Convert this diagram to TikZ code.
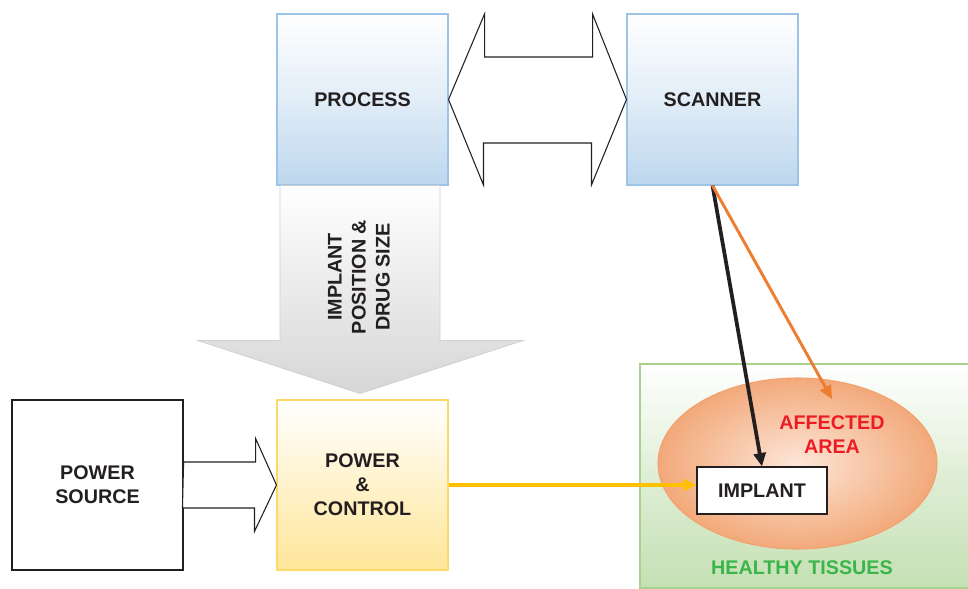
\documentclass[tikz,border=0pt]{standalone}
\usepackage{fontspec}
\setmainfont{Liberation Sans}
\usetikzlibrary{arrows.meta,shapes.geometric,calc}
\definecolor{txt}{HTML}{231F20}
\definecolor{blueF}{HTML}{BDD7EE}
\definecolor{blueD}{HTML}{9DC3E6}
\definecolor{yelF}{HTML}{FFE699}
\definecolor{yelD}{HTML}{FFD966}
\definecolor{grnF}{HTML}{C5E0B4}
\definecolor{grnD}{HTML}{A9D18E}
\definecolor{orgIn}{HTML}{FDE6D8}
\definecolor{orgOut}{HTML}{F2A97A}
\definecolor{orgD}{HTML}{F4A16E}
\definecolor{orgA}{HTML}{ED7D31}
\definecolor{yelA}{HTML}{FFC000}
\definecolor{redT}{HTML}{ED1C24}
\definecolor{grnT}{HTML}{39B54A}
\definecolor{grayF}{HTML}{D6D6D6}
\definecolor{grayD}{HTML}{D0D0D0}
\begin{document}
\begin{tikzpicture}[x=0.75pt,y=-0.75pt,
  lbl/.style={font=\fontsize{14.8}{18}\selectfont\bfseries, text=txt, align=center},
  bluebox/.style={lbl, rectangle, draw=blueD, line width=0.8pt, top color=white, bottom color=blueF, middle color=blueF!45,
     minimum width=128.25pt, minimum height=128.25pt, inner sep=0pt},
  plainbox/.style={lbl, rectangle, draw=txt, line width=0.9pt, fill=white, inner sep=0pt},
  hollow/.style={draw=txt, line width=0.8pt, fill=white, line join=miter},
  conn/.style={line width=2.4pt, -{Triangle[length=10pt,width=9pt]}}
]
\useasboundingbox (0,0) rectangle (968,589);
\clip (0,0) rectangle (968,589);

% nodes
\node[bluebox] (process) at (362.5,99.5) {PROCESS};
\node[bluebox] (scanner) at (712.5,99.5) {SCANNER};
\node[plainbox, minimum width=128.25pt, minimum height=127.5pt] (psource) at (97.5,485) {POWER\\SOURCE};
\node[lbl, rectangle, draw=yelD, line width=0.8pt, top color=white, bottom color=yelF,
      minimum width=128.25pt, minimum height=127.5pt, inner sep=0pt] (pc) at (362.5,485) {POWER\\\&\\CONTROL};
\node[rectangle, draw=grnD, line width=0.8pt, top color=white, bottom color=grnF, middle color=grnF!55,
      minimum width=247.5pt, minimum height=168pt, inner sep=0pt] (tissue) at (805,476) {};
\node[ellipse, draw=orgD, line width=0.8pt, shading=radial, inner color=orgIn, outer color=orgOut,
      minimum width=209.25pt, minimum height=128.25pt, inner sep=0pt] (area) at (797.5,463.5) {};
\node[lbl, text=redT] (areatxt) at (832,435) {AFFECTED\\AREA};
\node[plainbox, minimum width=97.5pt, minimum height=35.25pt] (implant) at (762,490.5) {IMPLANT};
\node[lbl, text=grnT] (healthy) at (802,568) {HEALTHY TISSUES};
\coordinate (areapt) at (832,399);

% double block arrow between PROCESS and SCANNER
\draw[hollow] (process.east) -- ++(36,-85.5) -- ++(0,43) -- ++(108,0) -- ++(0,-43)
   -- (scanner.west) -- ++(-35,85.5) -- ++(0,-42) -- ++(-108,0) -- ++(0,42) -- cycle;

% big grey arrow down
\shade[top color=white, bottom color=grayF, draw=grayD, line width=0.6pt]
   (process.south) ++(-82.5,0) -- ++(160,0) -- ++(0,155) -- ++(83,0) -- ++(-163,53)
   -- ++(-162,-53) -- ++(82,0) -- cycle;
\node[lbl, rotate=90] (info) at (359,277) {IMPLANT\\POSITION \&\\DRUG SIZE};

% hollow arrow power source -> power & control
\draw[hollow] (psource.east) ++(0,-23) -- ++(72,0) -- ++(0,-23.5) -- (pc.west)
   -- ++(-22,46.5) -- ++(0,-23.5) -- ++(-72,0) -- cycle;

% connectors
\draw[conn, yelA] (pc.east) -- (pc.east -| implant.west);
\draw[conn, txt, line width=2.8pt] (scanner.south) -- (implant.north);
\draw[conn, orgA, line width=2.2pt] (scanner.south) -- (areapt);
\end{tikzpicture}
\end{document}
